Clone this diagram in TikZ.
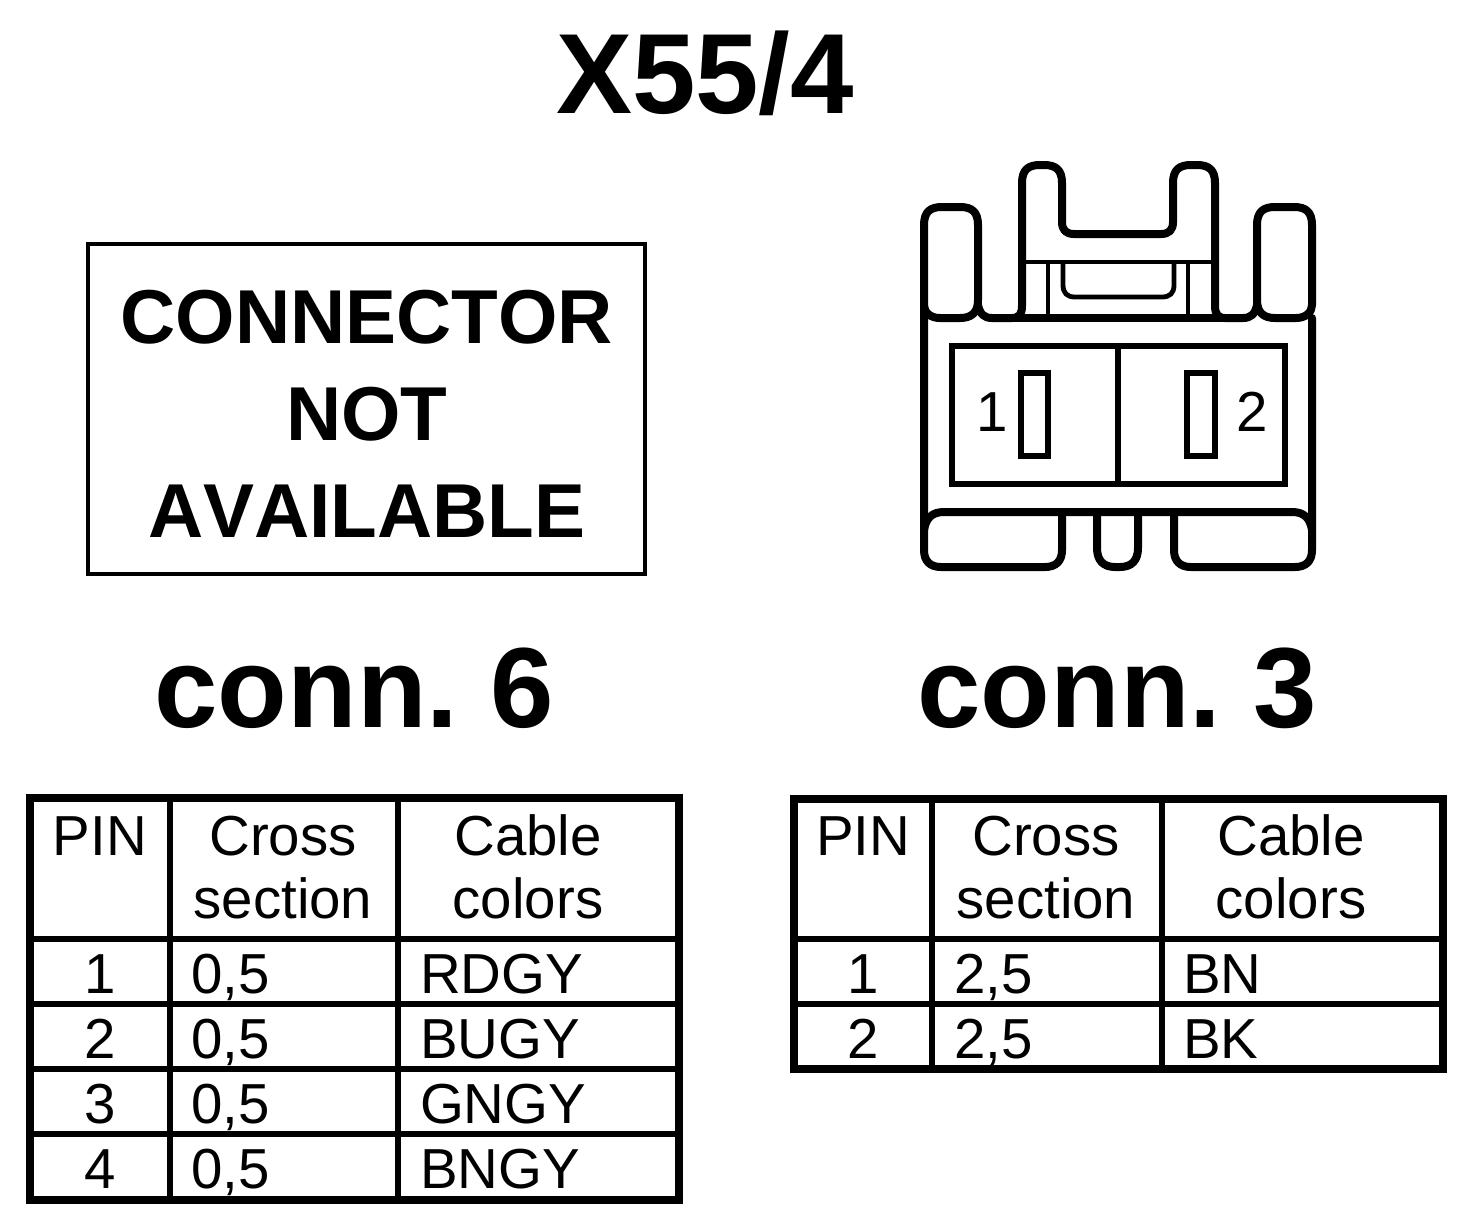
\documentclass[tikz,border=0pt]{standalone}
\usepackage{fontspec}
\setmainfont[Kerning=Off]{Liberation Sans}
\frenchspacing
\tikzset{
  x=0.5pt,y=-0.5pt,
  txt/.style={inner sep=0pt,outer sep=0pt,anchor=base,text=black},
  txtw/.style={inner sep=0pt,outer sep=0pt,anchor=base west,text=black},
  bigtxt/.style={txt,font=\fontsize{57}{60}\selectfont\bfseries},
  midtxt/.style={txt,font=\fontsize{38.2}{40}\selectfont\bfseries},
  cell/.style={txt,font=\fontsize{28.2}{30}\selectfont},
  cellw/.style={txtw,font=\fontsize{28.2}{30}\selectfont},
  heavy/.style={draw=black,line width=3.7pt,line join=round,line cap=round},
  inner/.style={draw=black,line width=2.6pt},
  thick body/.style={draw=black,line width=4pt,line join=round,line cap=round},
  thin body/.style={draw=black,line width=2.4pt,line join=round},
  socket/.style={draw=black,line width=2.6pt},
}
\newcommand{\tablegrid}[9]{%
  \draw[inner] (#5,#3) -- (#5,#4);
  \draw[inner] (#6,#3) -- (#6,#4);
  \draw[heavy,line cap=butt,line join=miter] (#1,#3) rectangle (#2,#4);
  \foreach \yy in {#8} {\draw[inner] (#1,\yy) -- (#2,\yy);}
  \node[cell] (#7pin) at (#9+100,855) {PIN};
  \node[cell] (#7cross) at (#9+283,855) {Cross};
  \node[cell] (#7section) at (#9+283,918) {section};
  \node[cell] (#7cable) at (#9+528,855) {Cable};
  \node[cell] (#7colors) at (#9+528,918) {colors};
}
\begin{document}
\begin{tikzpicture}
\useasboundingbox (0,0) rectangle (1472,1222);
\fill[white] (0,0) rectangle (1472,1222);

\node[bigtxt] (title) at (705,113) {X55/4};
\node[bigtxt] (conn6) at (354,727) {conn. 6};
\node[bigtxt] (conn3) at (1117,727) {conn. 3};

% not-available box
\draw[draw=black,line width=2.4pt] (88,244) rectangle (645,574);
\node[midtxt] (na1) at (367,343) {CONNECTOR};
\node[midtxt] (na2) at (367,440) {NOT};
\node[midtxt] (na3) at (367,537) {AVAILABLE};

% connector outline
\draw[thick body] (924,318) -- (924,225) .. controls (924,212) and (930,207) .. (942,207)
  -- (960,207) .. controls (972,207) and (978,212) .. (978,225) -- (978,300)
  .. controls (978,312) and (972,318) .. (960,318) -- (940,318) .. controls (930,318) and (924,312) .. (924,305);
\draw[thick body] (1257,300) -- (1257,225) .. controls (1257,212) and (1263,207) .. (1275,207)
  -- (1294,207) .. controls (1306,207) and (1312,212) .. (1312,225) -- (1312,305)
  .. controls (1312,312) and (1306,318) .. (1296,318) -- (1275,318) .. controls (1263,318) and (1257,312) .. (1257,300);
\draw[thick body] (978,305) .. controls (980,314) and (984,318) .. (992,318) -- (1012,318)
  .. controls (1019,318) and (1022,314) .. (1022,306) -- (1022,183)
  .. controls (1022,170) and (1028,165) .. (1040,165) -- (1044,165)
  .. controls (1056,165) and (1062,170) .. (1062,183) -- (1062,222)
  .. controls (1062,230) and (1066,234) .. (1074,234) -- (1161,234)
  .. controls (1169,234) and (1173,230) .. (1173,222) -- (1173,183)
  .. controls (1173,170) and (1179,165) .. (1191,165) -- (1197,165)
  .. controls (1209,165) and (1215,170) .. (1215,183) -- (1215,306)
  .. controls (1215,314) and (1218,318) .. (1225,318) -- (1243,318)
  .. controls (1251,318) and (1255,314) .. (1257,305);
\draw[thick body] (1012,318) -- (1225,318);
\draw[thin body] (1022,262) -- (1215,262);
\draw[thin body] (1048,262) -- (1048,318);
\draw[thin body] (1188,262) -- (1188,318);
\draw[thin body] (1063,262) -- (1063,285) .. controls (1063,293) and (1067,297) .. (1075,297)
  -- (1162,297) .. controls (1170,297) and (1174,293) .. (1174,285) -- (1174,262);

% sides
\draw[thick body] (924,318) -- (924,550) .. controls (924,561) and (930,567) .. (941,567)
  -- (1045,567) .. controls (1056,567) and (1062,561) .. (1062,550) -- (1062,514);
\draw[thick body] (1312,318) -- (1312,550) .. controls (1312,561) and (1306,567) .. (1295,567)
  -- (1191,567) .. controls (1180,567) and (1174,561) .. (1174,550) -- (1174,514);
\draw[thick body] (924,530) .. controls (926,518) and (932,512) .. (944,512) -- (1292,512)
  .. controls (1304,512) and (1310,518) .. (1312,530);
\draw[thick body] (1097,514) -- (1097,548) .. controls (1097,560) and (1103,567) .. (1115,567)
  -- (1120,567) .. controls (1132,567) and (1138,560) .. (1138,548) -- (1138,514);

% socket
\draw[socket] (952,346) rectangle (1285,484);
\draw[socket] (1118,346) -- (1118,484);
\draw[socket] (1021,373) rectangle (1048,456);
\draw[socket] (1187,373) rectangle (1215,456);
\node[cell] (p1) at (992,431) {1};
\node[cell] (p2) at (1252,431) {2};

% tables
\tablegrid{30}{679}{798}{1200}{170}{398}{a}{939,1004,1069,1134}{0}
\foreach \n/\col/\yy [count=\i] in {1/RDGY/993,2/BUGY/1058,3/GNGY/1123,4/BNGY/1188}{
  \node[cell] (apin\i) at (100,\yy) {\n};
  \node[cellw] (asec\i) at (191,\yy) {0,5};
  \node[cellw] (acol\i) at (420,\yy) {\col};
}
\tablegrid{794}{1443}{799}{1069}{932}{1162}{b}{939,1004}{763}
\foreach \n/\sec/\col/\yy [count=\i] in {1/{2,5}/BN/993,2/{2,5}/BK/1058}{
  \node[cell] (bpin\i) at (863,\yy) {\n};
  \node[cellw] (bsec\i) at (954,\yy) {\sec};
  \node[cellw] (bcol\i) at (1183,\yy) {\col};
}
\end{tikzpicture}
\end{document}
